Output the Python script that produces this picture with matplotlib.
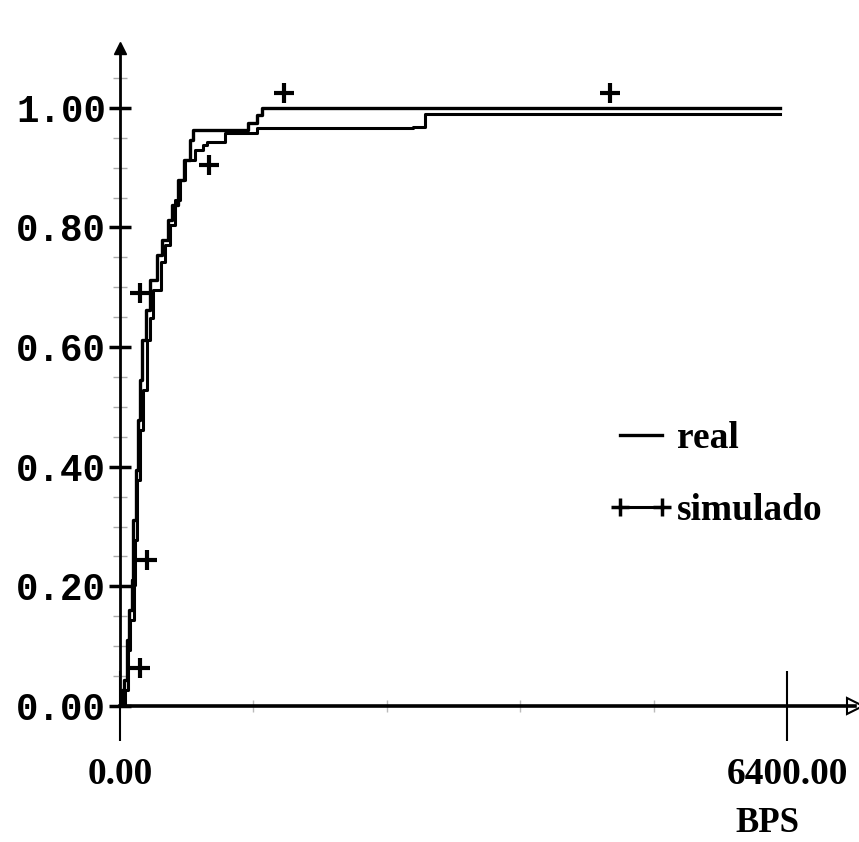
import numpy as np
import matplotlib.pyplot as plt
from matplotlib.lines import Line2D

# curve "real" (BPS, cumulative fraction)
real_x = [0, 19, 38, 67, 86, 115, 125, 154, 173, 192, 211, 250, 288, 355, 403,
          461, 499, 557, 614, 672, 700, 1180, 1228, 1314, 1362, 6330]
real_y = [0.0, 0.027, 0.043, 0.110, 0.161, 0.211, 0.311, 0.395, 0.478, 0.545,
          0.612, 0.662, 0.712, 0.754, 0.779, 0.813, 0.838, 0.880, 0.913, 0.946,
          0.963, 0.963, 0.975, 0.988, 1.0, 1.0]

# curve "simulado"
sim_x = [0, 48, 77, 96, 134, 144, 163, 192, 221, 259, 288, 317, 393, 432, 480,
         528, 576, 624, 720, 796, 835, 988, 1007, 1314, 2811, 2926, 6330]
sim_y = [0.0, 0.027, 0.094, 0.144, 0.202, 0.278, 0.378, 0.462, 0.528, 0.612,
         0.649, 0.696, 0.742, 0.771, 0.804, 0.846, 0.880, 0.913, 0.930, 0.938,
         0.943, 0.943, 0.958, 0.967, 0.968, 0.990, 0.990]

# "+" marks of simulado
mark_x = [192, 259, 192, 854, 1574, 4702]
mark_y = [0.064, 0.244, 0.691, 0.905, 1.025, 1.025]

yticks = [0.0, 0.2, 0.4, 0.6, 0.8, 1.0]
ytick_labels = ["0.00", "0.20", "0.40", "0.60", "0.80", "1.00"]
xticks = [0, 6400]
xtick_labels = ["0.00", "6400.00"]

serif = 'Liberation Serif'

fig = plt.figure(figsize=(8.59, 8.42), dpi=100)
ax = fig.add_axes([120/859, 136/842, 735/859, 658/842])
ax.set_xlim(0, 7052)
ax.set_ylim(0, 1.10)

ax.plot(real_x, real_y, color='black', lw=2.4, drawstyle='steps-post')
ax.plot(sim_x, sim_y, color='black', lw=2.2, drawstyle='steps-post')
ax.plot(mark_x, mark_y, ls='none', marker='+', ms=14, mew=3, color='black')

for s in ['top', 'right']:
    ax.spines[s].set_visible(False)
ax.spines['left'].set_linewidth(2)
ax.spines['bottom'].set_linewidth(2.6)

# axis arrows
ax.plot([0], [1.10], marker='^', ms=8, color='black', clip_on=False)
ax.plot([7052], [0], marker='>', ms=11, mfc='white', mec='black', mew=1.5, clip_on=False)

ax.set_yticks(yticks)
ax.set_yticklabels(ytick_labels, family='Liberation Mono', fontweight='bold', fontsize=27)
ax.set_yticks(np.arange(0.05, 1.06, 0.05), minor=True)
ax.tick_params(axis='y', which='major', direction='inout', length=16, width=2.5, pad=2)
ax.tick_params(axis='y', which='minor', direction='inout', length=10, width=1, color='#aaaaaa')

ax.set_xticks(xticks)
ax.set_xticklabels(xtick_labels, family=serif, fontweight='bold', fontsize=27)
ax.set_xticks([1280, 2560, 3840, 5120], minor=True)
ax.tick_params(axis='x', which='major', direction='inout', length=50, width=1.5, pad=12)
ax.tick_params(axis='x', which='minor', direction='inout', length=8, width=1, color='#bbbbbb')

fig.text(767/859, 1 - 824/842, "BPS", ha='center', va='center', family=serif,
         fontweight='bold', fontsize=25)

handles = [Line2D([], [], color='black', lw=2.4),
           Line2D([], [], color='black', lw=2.2, marker='+', ms=13, mew=2.5)]
ax.legend(handles, ['real', 'simulado'], loc='upper left', bbox_to_anchor=(609/859, 1 - 421/842),
          bbox_transform=fig.transFigure, frameon=False, numpoints=2, handlelength=1.7,
          handletextpad=0.1, labelspacing=1.0, borderpad=0, borderaxespad=0,
          prop={'family': serif, 'weight': 'bold', 'size': 27})

fig.savefig('out.png', dpi=100, facecolor='white')
